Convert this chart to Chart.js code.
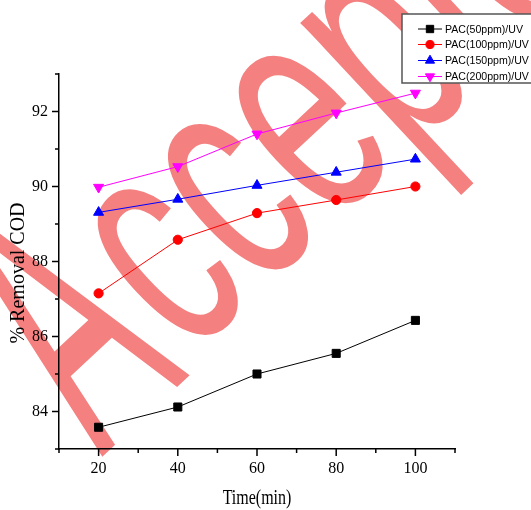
<!DOCTYPE html>
<html>
<head>
<meta charset="utf-8">
<title>% Removal COD vs Time</title>
<script src="https://cdn.jsdelivr.net/npm/chart.js@4.4.0/dist/chart.umd.min.js"></script>
<style>
  html, body { margin: 0; padding: 0; background: #fff; }
  #wrap { width: 531px; height: 510px; }
</style>
</head>
<body>
<div id="wrap"><canvas id="codChart"></canvas></div>
<script>
// Data
const times = [20, 40, 60, 80, 100];
const seriesNames = ['PAC(50ppm)/UV', 'PAC(100ppm)/UV', 'PAC(150ppm)/UV', 'PAC(200ppm)/UV'];
const pac50 = [83.58, 84.12, 85.0, 85.55, 86.43];
const pac100 = [87.15, 88.58, 89.29, 89.64, 90.0];
const pac150 = [89.31, 89.66, 90.03, 90.38, 90.73];
const pac200 = [89.98, 90.53, 91.4, 91.96, 92.49];
const xTickLabels = [20, 40, 60, 80, 100];
const yTickLabels = [84, 86, 88, 90, 92];

const serif = '"Liberation Serif", "Times New Roman", serif';
const sans = '"Liberation Sans", Arial, sans-serif';

function makeSet(label, values, color, style, radius, rotation) {
    return {
        label: label,
        data: times.map((t, i) => ({ x: t, y: values[i] })),
        borderColor: color,
        backgroundColor: color,
        borderWidth: 1,
        pointStyle: style,
        pointRadius: radius,
        pointRotation: rotation,
        pointBorderWidth: 1,
        pointBorderColor: color,
        pointBackgroundColor: color,
        tension: 0
    };
}

// big "Accepted" stamp behind the plot
const stampPlugin = {
    id: 'stamp',
    beforeDraw(chart) {
        const ctx = chart.ctx;
        const angle = -43 * Math.PI / 180;
        ctx.save();
        ctx.fillStyle = '#f48080';
        ctx.textBaseline = 'alphabetic';

        // capital A, taller than the rest
        ctx.save();
        ctx.font = '400px ' + sans;
        ctx.textAlign = 'center';
        ctx.translate(146, 416);
        ctx.rotate(angle);
        ctx.scale(0.45, 1);
        ctx.fillText('A', 0, 0);
        ctx.restore();

        // the rest of the word
        ctx.font = '320px ' + sans;
        const wc = ctx.measureText('c').width;
        const xh = ctx.measureText('x').actualBoundingBoxAscent;
        ctx.translate(165, 264);
        ctx.rotate(angle);
        ctx.scale(0.6, 1);
        ctx.fillText('ccepted', -wc / 2, xh / 2);
        ctx.restore();
    }
};

// major / minor tick marks pointing outwards
const tickPlugin = {
    id: 'tickMarks',
    afterDraw(chart) {
        const ctx = chart.ctx;
        const xs = chart.scales.x, ys = chart.scales.y;
        ctx.save();
        ctx.strokeStyle = '#000';
        ctx.lineWidth = 1.5;
        xs.ticks.forEach(t => {
            const px = xs.getPixelForValue(t.value);
            const len = xTickLabels.includes(t.value) ? 7 : 4;
            ctx.beginPath();
            ctx.moveTo(px, xs.top);
            ctx.lineTo(px, xs.top + len);
            ctx.stroke();
        });
        ys.ticks.forEach(t => {
            const py = ys.getPixelForValue(t.value);
            const len = yTickLabels.includes(t.value) ? 7 : 4;
            ctx.beginPath();
            ctx.moveTo(ys.right, py);
            ctx.lineTo(ys.right - len, py);
            ctx.stroke();
        });
        ctx.restore();
    }
};

// axis titles
const titlePlugin = {
    id: 'axisTitles',
    afterDraw(chart) {
        const ctx = chart.ctx;
        ctx.save();
        ctx.fillStyle = '#000';
        ctx.textAlign = 'center';
        ctx.textBaseline = 'middle';
        ctx.font = '20px ' + serif;
        ctx.save();
        ctx.translate(19, 273);
        ctx.rotate(-Math.PI / 2);
        ctx.fillText('% Removal COD', 0, 0);
        ctx.restore();
        ctx.translate(257, 499);
        ctx.scale(0.8, 1);
        ctx.fillText('Time(min)', 0, 0);
        ctx.restore();
    }
};

// boxed legend in the top right corner
const legendPlugin = {
    id: 'boxLegend',
    afterDraw(chart) {
        const ctx = chart.ctx;
        ctx.save();
        ctx.fillStyle = '#fff';
        ctx.fillRect(402, 14, 140, 69);
        ctx.strokeStyle = '#555';
        ctx.lineWidth = 1.5;
        ctx.strokeRect(402, 14, 140, 69);
        ctx.font = '11.5px ' + sans;
        ctx.textBaseline = 'middle';
        const rows = [29, 44.5, 60.5, 76.5];
        chart.data.datasets.forEach((ds, i) => {
            const y = rows[i];
            ctx.strokeStyle = ds.borderColor;
            ctx.lineWidth = 1;
            ctx.beginPath();
            ctx.moveTo(418, y);
            ctx.lineTo(442, y);
            ctx.stroke();
            ctx.fillStyle = ds.borderColor;
            Chart.helpers.drawPoint(ctx, {
                pointStyle: ds.pointStyle,
                radius: ds.pointRadius - 0.5,
                rotation: ds.pointRotation,
                borderWidth: 1
            }, 430, y);
            ctx.fillStyle = '#000';
            ctx.save();
            ctx.translate(445, y + 0.5);
            ctx.scale(0.92, 1);
            ctx.fillText(ds.label, 0, 0);
            ctx.restore();
        });
        ctx.restore();
    }
};

new Chart(document.getElementById('codChart'), {
    type: 'line',
    data: {
        datasets: [
            makeSet(seriesNames[0], pac50, '#000000', 'rect', 5.7, 0),
            makeSet(seriesNames[1], pac100, '#ff0000', 'circle', 4.6, 0),
            makeSet(seriesNames[2], pac150, '#0000ff', 'triangle', 5.8, 0),
            makeSet(seriesNames[3], pac200, '#ff00ff', 'triangle', 5.8, 180)
        ]
    },
    options: {
        responsive: true,
        maintainAspectRatio: false,
        animation: false,
        layout: { padding: { left: 0, top: 74, right: 76, bottom: 0 } },
        plugins: {
            legend: { display: false },
            tooltip: { enabled: false }
        },
        scales: {
            x: {
                type: 'linear',
                min: 10,
                max: 110,
                afterFit(scale) { scale.height = 61; },
                grid: { display: true, drawOnChartArea: false, drawTicks: false },
                border: { display: true, color: '#000', width: 1.5 },
                ticks: {
                    stepSize: 10,
                    autoSkip: false,
                    maxRotation: 0,
                    padding: 10,
                    color: '#000',
                    font: { family: serif, size: 16 },
                    callback: v => xTickLabels.includes(v) ? v : ''
                }
            },
            y: {
                min: 83,
                max: 93,
                afterFit(scale) { scale.width = 59; },
                grid: { display: true, drawOnChartArea: false, drawTicks: false },
                border: { display: true, color: '#000', width: 1.5 },
                ticks: {
                    stepSize: 1,
                    autoSkip: false,
                    padding: 11,
                    color: '#000',
                    font: { family: serif, size: 16 },
                    callback: v => yTickLabels.includes(v) ? v : ''
                }
            }
        }
    },
    plugins: [stampPlugin, tickPlugin, titlePlugin, legendPlugin]
});
</script>
</body>
</html>
